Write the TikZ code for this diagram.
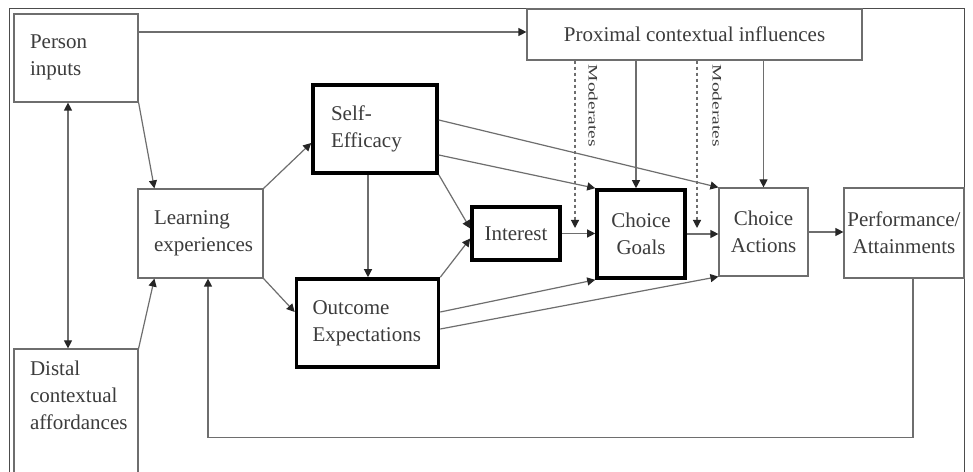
\documentclass[tikz,border=0pt]{standalone}
\usepackage{fontspec}
\setmainfont{Liberation Serif}
\usetikzlibrary{arrows.meta}
\definecolor{linegray}{HTML}{6E6E6E}
\definecolor{textgray}{HTML}{3C3C3C}
\begin{document}
\begin{tikzpicture}[x=1pt,y=1pt,
    box/.style={draw=linegray, line width=1.2pt, inner sep=0pt, text=textgray,
        font=\fontsize{21}{27}\selectfont},
    leftbox/.style={box, align=left, inner xsep=16pt},
    midbox/.style={box, align=center},
    heavy/.style={line width=3.6pt, draw=black},
    tip/.tip={Triangle[length=8pt,width=8pt,color=black!85]},
    arr/.style={draw=linegray, line width=1.2pt, -tip},
    modarr/.style={arr, dashed, dash pattern=on 3pt off 3pt},
    modlabel/.style={text=textgray, font=\fontsize{13}{15}\selectfont, rotate=-90, xscale=1.5}]
    \useasboundingbox (0,0) rectangle (973,471);
    \clip (0,0) rectangle (973,471);
    \fill[white] (0,0) rectangle (973,471);

    % Frame
    \draw[draw=black!70, line width=1pt] (9,-5) -- (9,462) -- (964,462) -- (964,-5);

    % Boxes
    \node[leftbox, text width=92pt, minimum height=88pt, text depth=32pt] (person) at (76,413) {Person\\inputs};
    \node[midbox, minimum width=335pt, minimum height=51pt, text height=15pt] (prox) at (694.5,436.5) {Proximal contextual influences};
    \node[leftbox, text width=93pt, minimum height=89pt] (learn) at (200.5,237.5) {Learning\\experiences};
    \node[leftbox, heavy, text width=88pt, minimum height=88pt, inner xsep=18pt] (self) at (375,342) {Self-\\Efficacy};
    \node[leftbox, heavy, text width=110pt, minimum height=88pt] (outc) at (367.5,148) {Outcome\\Expectations};
    \node[midbox, heavy, minimum width=88pt, minimum height=53pt] (interest) at (516,237.5) {Interest};
    \node[midbox, heavy, minimum width=88pt, minimum height=88pt] (goals) at (641,237) {Choice\\Goals};
    \node[midbox, minimum width=89pt, minimum height=88pt] (actions) at (763.5,239) {Choice\\Actions};
    \node[midbox, minimum width=120pt, minimum height=90pt] (perf) at (904,238) {Performance/\\Attainments};
    \node[leftbox, text width=92pt, minimum height=132pt, text depth=93pt] (distal) at (76,56) {Distal\\contextual\\affordances};

    % Moderator arrows
    \coordinate (mod1) at (575,243);
    \coordinate (mod2) at (697,243);
    \draw[modarr] (mod1 |- prox.south) -- (mod1);
    \draw[modarr] (mod2 |- prox.south) -- (mod2);
    \node[modlabel] (modtext1) at (593,365) {Moderates};
    \node[modlabel] (modtext2) at (717,365) {Moderates};

    % Left side
    \draw[arr] ([yshift=26pt]person.east) -- ([yshift=26pt]person.east -| prox.west);
    \draw[arr, tip-tip] ([xshift=-8pt]person.south) -- ([xshift=-8pt]distal.north);
    \draw[arr] (person.south east) -- ([xshift=17pt]learn.north west);
    \draw[arr] (distal.north east) -- ([xshift=17pt]learn.south west);

    % Learning to beliefs
    \draw[arr] (learn.north east) -- ([yshift=-14pt]self.west);
    \draw[arr] (learn.south east) -- ([yshift=11pt]outc.west);
    \draw[arr] ([xshift=-7pt]self.south) -- ([xshift=-7pt]self.south |- outc.north);

    % Beliefs to interest, goals and actions
    \draw[arr] (self.south east) -- ([yshift=5pt]interest.west);
    \draw[arr] (outc.north east) -- ([yshift=-5pt]interest.west);
    \draw[arr] ([yshift=-26pt]self.east) -- (goals.north west);
    \draw[arr] ([yshift=9pt]self.east) -- (actions.north west);
    \draw[arr] ([yshift=11pt]outc.east) -- (goals.south west);
    \draw[arr] ([yshift=-6pt]outc.east) -- (actions.south west);

    % Main chain
    \draw[arr] (interest.east) -- (interest.east -| goals.west);
    \draw[arr] (goals.east) -- (goals.east -| actions.west);
    \draw[arr] (actions.east) -- (actions.east -| perf.west);

    % Proximal influences
    \draw[arr] ([xshift=-5pt]goals.north |- prox.south) -- ([xshift=-5pt]goals.north);
    \draw[arr] (actions.north |- prox.south) -- (actions.north);

    % Feedback loop
    \draw[arr] ([xshift=9pt]perf.south) -- ++(0,-159) -| ([xshift=7.5pt]learn.south);
\end{tikzpicture}
\end{document}
